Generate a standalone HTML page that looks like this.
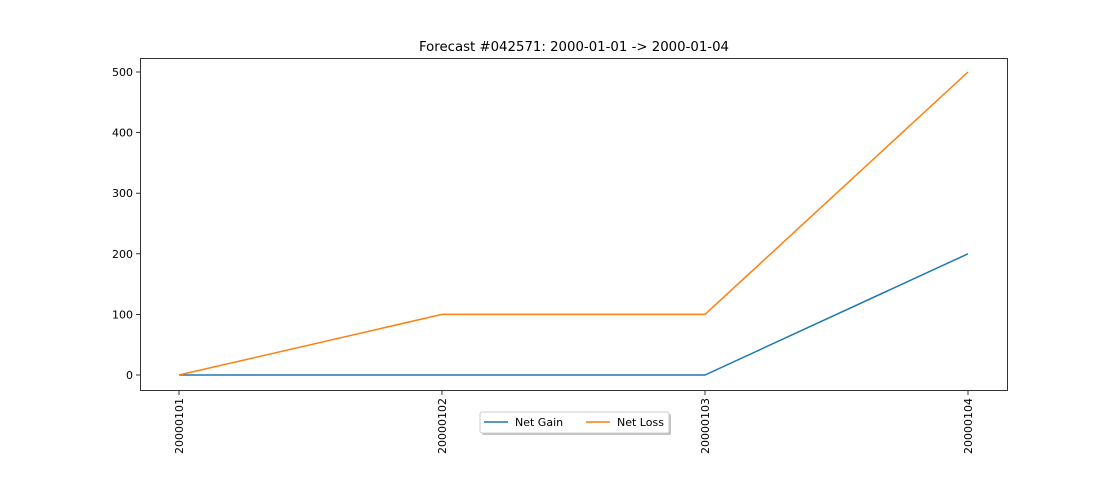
<!DOCTYPE html>
<html><head><meta charset="utf-8"><style>
html,body{margin:0;padding:0;background:#fff;}
svg{display:block;font-family:"DejaVu Sans","Liberation Sans",sans-serif;}
</style></head><body>
<svg id="chart" width="1120" height="480" xmlns="http://www.w3.org/2000/svg">
<rect width="1120" height="480" fill="#fff"/>
<text x="574" y="51" font-size="13.3" text-anchor="middle">Forecast #042571: 2000-01-01 -&gt; 2000-01-04</text>
<g id="axes"></g>
<g id="series"></g>
<rect x="140.5" y="58.5" width="867" height="332" fill="none" stroke="#000" stroke-width="0.8"/>
<g>
<rect x="482" y="414" width="189" height="21" rx="2" fill="#888" opacity="0.5"/>
<rect x="480" y="412" width="189" height="21" rx="2" fill="#fff" stroke="#ccc"/>
<g>
<line x1="484" y1="422" x2="508" y2="422" stroke="#1f77b4" stroke-width="1.5"/>
<text x="515" y="426" font-size="11">Net Gain</text></g>
<g>
<line x1="586" y1="422" x2="610" y2="422" stroke="#ff7f0e" stroke-width="1.5"/>
<text x="617" y="426" font-size="11">Net Loss</text></g>
</g>
</svg>
<script>
const categories=["20000101","20000102","20000103","20000104"];
const netGain=[0,0,0,200];
const netLoss=[0,100,100,500];
const yTicks=[0,100,200,300,400,500];
const NS="http://www.w3.org/2000/svg";
function xScale(i){return 179+i*(968-179)/(categories.length-1);}
function yScale(v){return 375-v*(375-72)/500;}
const axes=document.getElementById('axes'),series=document.getElementById('series');
function mk(t,a,p){const e=document.createElementNS(NS,t);for(const k in a)e.setAttribute(k,a[k]);p.appendChild(e);return e;}
yTicks.forEach(v=>{const y=yScale(v);
const l=mk('line',{x1:136,x2:140,y1:y,y2:y,stroke:'#000','stroke-width':0.8},axes);


const t=mk('text',{x:133,y:y+4,'font-size':11,'text-anchor':'end'},axes);t.textContent=v;

});
categories.forEach((c,i)=>{const x=xScale(i);
const l=mk('line',{x1:x,x2:x,y1:391,y2:395,stroke:'#000','stroke-width':0.8},axes);


const t=mk('text',{x:0,y:0,'font-size':11,'text-anchor':'end',transform:`translate(${x+4},398) rotate(-90)`},axes);t.textContent=c;

});
function line(vals,color,name){const p=mk('polyline',{points:vals.map((v,i)=>xScale(i)+','+yScale(v)).join(' '),fill:'none',stroke:color,'stroke-width':1.5},series);

}
line(netGain,'#1f77b4','net-gain-line');
line(netLoss,'#ff7f0e','net-loss-line');
</script>
</body></html>
